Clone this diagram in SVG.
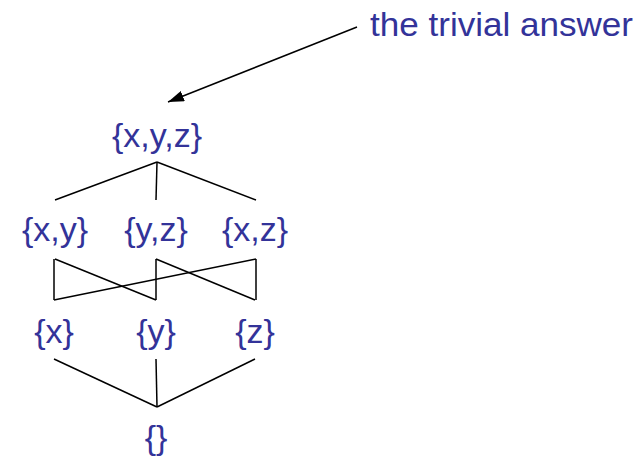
<svg xmlns="http://www.w3.org/2000/svg" width="641" height="456" viewBox="0 0 641 456">
<style>
text{font-family:"Liberation Sans",Arial,sans-serif;font-size:34px;fill:#333399;text-anchor:middle}
.c line{stroke:#000;stroke-width:1.5;fill:none}
</style>
<defs>
<marker id="ah" markerWidth="16" markerHeight="11" refX="16" refY="5.5" orient="auto" markerUnits="userSpaceOnUse" viewBox="0 0 16 11">
<path d="M0,0 L16,5.5 L0,11 Z" fill="#000"/>
</marker>
</defs>
<rect width="641" height="456" fill="#fff"/>
<g class="c" id="connectors">
<line x1="157" y1="162" x2="55" y2="200"/>
<line x1="157" y1="162" x2="156" y2="200"/>
<line x1="157" y1="162" x2="256" y2="200"/>
<line x1="54" y1="259" x2="54" y2="300"/>
<line x1="55" y1="259" x2="156" y2="300"/>
<line x1="156" y1="259" x2="156" y2="300"/>
<line x1="156" y1="259" x2="255" y2="300"/>
<line x1="256" y1="259" x2="256" y2="300"/>
<line x1="256" y1="259" x2="54" y2="300"/>
<line x1="54" y1="359" x2="157" y2="407"/>
<line x1="156" y1="359" x2="157" y2="407"/>
<line x1="255" y1="359" x2="157" y2="407"/>
<line x1="357" y1="27" x2="168" y2="102" marker-end="url(#ah)"/>
</g>
<g id="xyz"><text x="157" y="147">{x,y,z}</text></g>
<g id="xy"><text x="55" y="241">{x,y}</text></g>
<g id="yz"><text x="156" y="241">{y,z}</text></g>
<g id="xz"><text x="255" y="241">{x,z}</text></g>
<g id="x"><text x="54" y="343">{x}</text></g>
<g id="y"><text x="156" y="343">{y}</text></g>
<g id="z"><text x="255" y="343">{z}</text></g>
<g id="empty"><text x="156" y="449">{}</text></g>
<g id="label"><text x="370" y="36" style="text-anchor:start" textLength="263" lengthAdjust="spacingAndGlyphs">the trivial answer</text></g>
</svg>
